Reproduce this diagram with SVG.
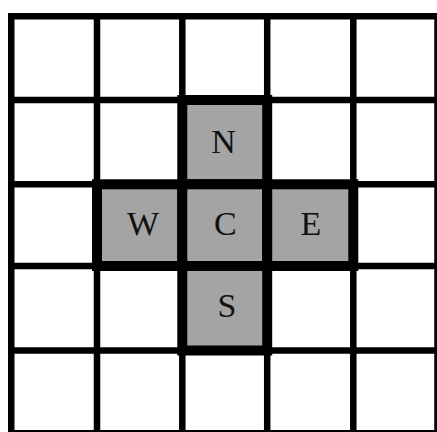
<svg xmlns="http://www.w3.org/2000/svg" width="437" height="432" viewBox="0 0 437 432">
  <style>
    .grid { stroke: #000; stroke-width: 6.5; fill: none; }
    .cell rect { fill: #a4a4a4; stroke: #000; stroke-width: 10; }
    .cell text { font-family: "Liberation Serif", "Times New Roman", serif; font-size: 34px; fill: #111; text-anchor: middle; }
  </style>
  <rect width="437" height="432" fill="#fff"/>
  <g id="grid" class="grid">
    <path d="M11.25 13 V437 M97 13 V437 M182.3 13 V437 M267.2 13 V437 M353.3 13 V437 M437.5 13 V437"/>
    <path d="M8 16.25 H440 M8 100 H440 M8 184.3 H440 M8 266 H440 M8 350.5 H440 M8 433.3 H440"/>
  </g>
  <g id="N" class="cell">
    <rect x="182.3" y="100" width="84.9" height="84.3"/>
    <text x="223.5" y="153">N</text>
  </g>
  <g id="W" class="cell">
    <rect x="97" y="184.3" width="85.3" height="81.7"/>
    <text x="143" y="235">W</text>
  </g>
  <g id="C" class="cell">
    <rect x="182.3" y="184.3" width="84.9" height="81.7"/>
    <text x="225.3" y="235">C</text>
  </g>
  <g id="E" class="cell">
    <rect x="267.2" y="184.3" width="86.1" height="81.7"/>
    <text x="311" y="235">E</text>
  </g>
  <g id="S" class="cell">
    <rect x="182.3" y="266" width="84.9" height="84.5"/>
    <text x="227" y="316.5">S</text>
  </g>
</svg>
